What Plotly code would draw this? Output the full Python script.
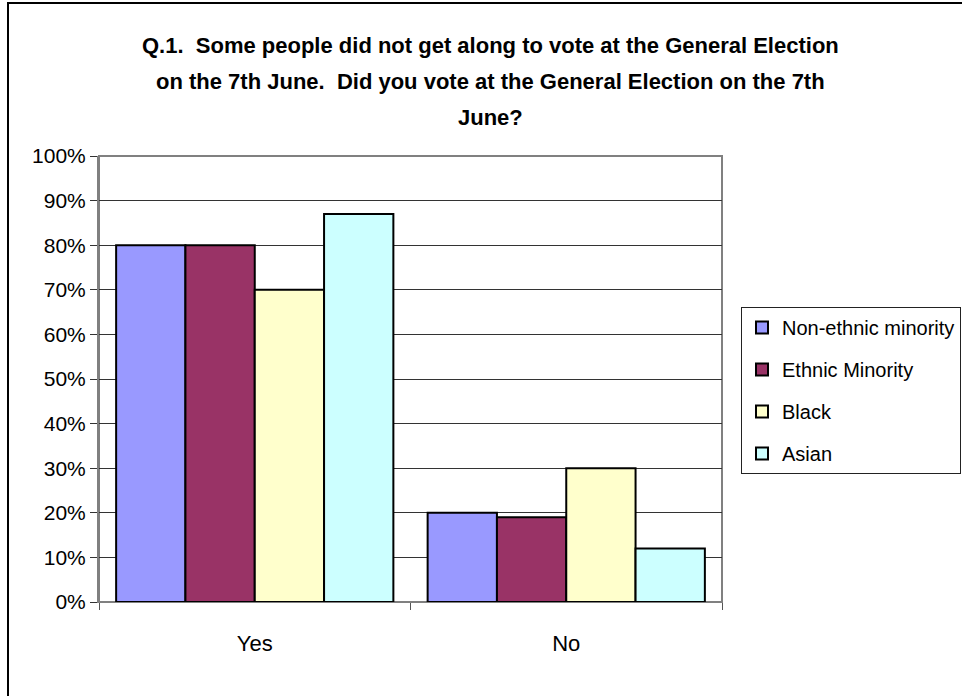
import plotly.graph_objects as go

categories = ["Yes", "No"]
series_names = ["Non-ethnic minority", "Ethnic Minority", "Black", "Asian"]
non_ethnic = [0.80, 0.20]
ethnic_minority = [0.80, 0.19]
black = [0.70, 0.30]
asian = [0.87, 0.12]
colors = ["#9999FF", "#993366", "#FFFFCC", "#CCFFFF"]
title_lines = [
    "Q.1.\u00a0 Some people did not get along to vote at the General Election",
    "on the 7th June.\u00a0 Did you vote at the General Election on the 7th",
    "June?",
]
y_ticks = [i / 10 for i in range(11)]
y_tick_labels = [f"{i * 10}%" for i in range(11)]

FONT = "Liberation Sans, Arial, sans-serif"
W, H = 962, 696
L, R, T, B = 99, 240, 156, 94
PW, PH = W - L - R, H - T - B

def px_x(x):
    return (x - L) / PW

def px_y(y):
    return (H - B - y) / PH

fig = go.Figure()
for name, vals, col in zip(series_names, [non_ethnic, ethnic_minority, black, asian], colors):
    fig.add_trace(go.Bar(
        x=categories, y=vals, name=name, legendgroup=name,
        marker=dict(color=col, line=dict(color="black", width=2)),
    ))

annotations = []
for i, (line, yp) in enumerate(zip(title_lines, [45, 82, 118])):
    annotations.append(dict(
        text=f"<b>{line}</b>", x=px_x(490), y=px_y(yp), xref="paper", yref="paper",
        xanchor="center", yanchor="middle", showarrow=False,
        font=dict(family=FONT, size=22, color="black"),
    ))

shapes = [
    # outer chart border
    dict(type="rect", xref="paper", yref="paper",
         x0=px_x(8), x1=px_x(1000), y0=px_y(740), y1=px_y(3),
         line=dict(color="black", width=2), layer="above"),
    # plot area border
    dict(type="rect", xref="paper", yref="paper", x0=0, x1=1, y0=0, y1=1,
         line=dict(color="#808080", width=2), layer="below"),
]

fig.update_layout(
    width=W, height=H,
    margin=dict(l=L, r=R, t=T, b=B, autoexpand=False),
    paper_bgcolor="white", plot_bgcolor="white",
    barmode="group", bargap=0.11, bargroupgap=0,
    font=dict(family=FONT, size=22, color="black"),
    annotations=annotations,
    shapes=shapes,
    showlegend=True,
    legend=dict(
        x=px_x(741), y=px_y(307), xanchor="left", yanchor="top",
        bgcolor="white", bordercolor="#222222", borderwidth=1,
        font=dict(family=FONT, size=20, color="black"),
        tracegroupgap=13, traceorder="grouped",
    ),
    xaxis=dict(
        type="category", showgrid=False, showline=True, linecolor="#808080", linewidth=1,
        ticks="outside", tickson="boundaries", ticklen=7, tickcolor="#555555",
        ticklabelstandoff=22, tickfont=dict(size=22),
    ),
    yaxis=dict(
        range=[0, 1], tickvals=y_ticks, ticktext=y_tick_labels,
        showgrid=True, gridcolor="#333333", gridwidth=1,
        showline=True, linecolor="#808080", linewidth=2,
        ticks="outside", ticklen=7, tickcolor="#333333",
        zeroline=False, tickfont=dict(size=21),
    ),
)

fig.write_html("out.html")
